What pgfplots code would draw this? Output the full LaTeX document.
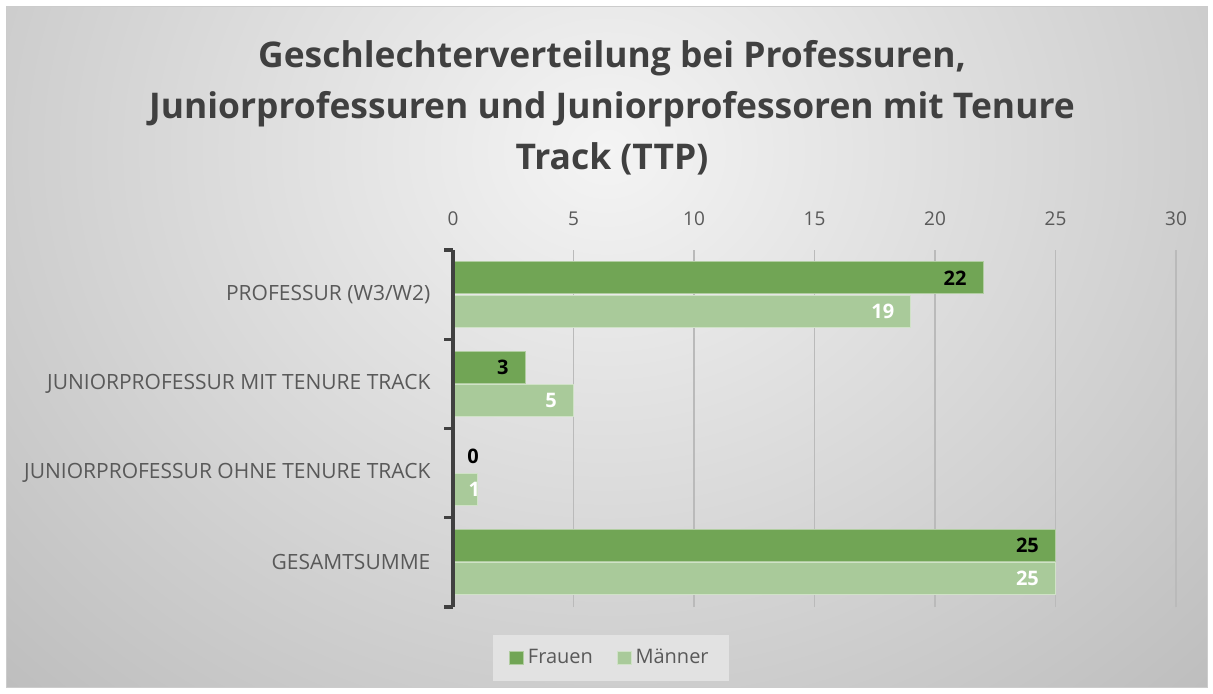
\documentclass[border=0pt]{standalone}
\usepackage{pgfplots}
\pgfplotsset{compat=1.18}
\usepackage{fontspec}
\setmainfont{Open Sans}
\definecolor{frauen}{HTML}{71A555}
\definecolor{maenner}{HTML}{A9CA9A}
\definecolor{titlegray}{HTML}{404040}
\definecolor{labelgray}{HTML}{595959}
\definecolor{gridgray}{HTML}{BABABA}
\definecolor{bgin}{HTML}{F4F4F4}
\definecolor{bgout}{HTML}{BEBEBE}
\definecolor{legfill}{HTML}{E2E2E2}

% value, category, label shift
\pgfplotstableread{
x y sh
22 3 -4.75
3 2 -4.75
0 1 16.5
25 0 -4.75
}\frauentab
\pgfplotstableread{
x y sh
19 3 -4.75
5 2 -4.75
1 1 5
25 0 -4.75
}\maennertab

\begin{document}
\begin{tikzpicture}[x=0.5pt,y=-0.5pt]
% page = 1213 x 693 px, 1px = 0.5pt
\useasboundingbox (0,0) rectangle (1213,693);
\fill[white] (0,0) rectangle (1213,693);
\begin{scope}
  \clip (6,6) rectangle (1207,687);
  \shade[inner color=bgin, outer color=bgout] (-250,-600) rectangle (1463,900);
\end{scope}
\draw[black!20, line width=0.5pt] (6,6) rectangle (1207,687);

\node[font=\bfseries\fontsize{17.7}{25.5}\selectfont, text=titlegray, align=center]
  at (612,108) {Geschlechterverteilung bei Professuren,\\Juniorprofessuren und Juniorprofessoren mit Tenure\\Track (TTP)};

\begin{axis}[
  at={(226.5pt,-303.5pt)}, anchor=south west,
  scale only axis, width=361.5pt, height=178.5pt,
  /pgf/number format/assume math mode=true,
  xbar, bar width=16pt,
  xmin=0, xmax=30, ymin=-0.5, ymax=3.5,
  enlargelimits=false,
  axis x line*=top, axis y line*=left,
  x axis line style={draw=none},
  y axis line style={draw=titlegray, line width=2pt},
  xtick={0,5,...,30}, xmajorgrids,
  major grid style={draw=gridgray, line width=0.9pt},
  xticklabel style={font=\fontsize{9.5}{11}\selectfont, text=labelgray, yshift=4.5pt},
  major x tick style={draw=none},
  ytick={0,1,2,3},
  yticklabels={GESAMTSUMME, JUNIORPROFESSUR OHNE TENURE TRACK, JUNIORPROFESSUR MIT TENURE TRACK, PROFESSUR (W3/W2)},
  yticklabel style={font=\fontsize{10.5}{12}\selectfont, text=labelgray, xshift=-3.5pt},
  major y tick style={draw=none},
  minor ytick={-0.5,0.5,1.5,2.5,3.5},
  minor tick length=4.5pt, tick align=outside,
  minor y tick style={draw=titlegray, line width=1.6pt},
  nodes near coords,
  visualization depends on={\thisrow{sh} \as \labshift},
  every node near coord/.append style={font=\bfseries\fontsize{10}{12}\selectfont, anchor=east, xshift=\labshift pt},
  legend columns=2,
  legend style={at={(0.2185,-0.143)}, anchor=center, draw=none, fill=legfill,
    font=\fontsize{10}{12}\selectfont, text=labelgray,
    inner xsep=8pt, inner ysep=5pt,
    /tikz/every even column/.append style={column sep=10pt}},
  legend image code/.code={\fill[#1] (0pt,-3.4pt) rectangle (6.8pt,3.4pt);},
]
\addplot[fill=frauen, draw=white!45!frauen, line width=0.5pt, bar shift=8.4pt,
  every node near coord/.append style={text=black}]
  table[x=x, y=y] {\frauentab};
\addplot[fill=maenner, draw=white!45!maenner, line width=0.5pt, bar shift=-8.2pt,
  every node near coord/.append style={text=white}]
  table[x=x, y=y] {\maennertab};
\legend{Frauen, Männer}
% redraw the value axis line on top of the bars
\draw[titlegray, line width=2pt] (rel axis cs:0,0) -- (rel axis cs:0,1);
\end{axis}
\end{tikzpicture}
\end{document}
